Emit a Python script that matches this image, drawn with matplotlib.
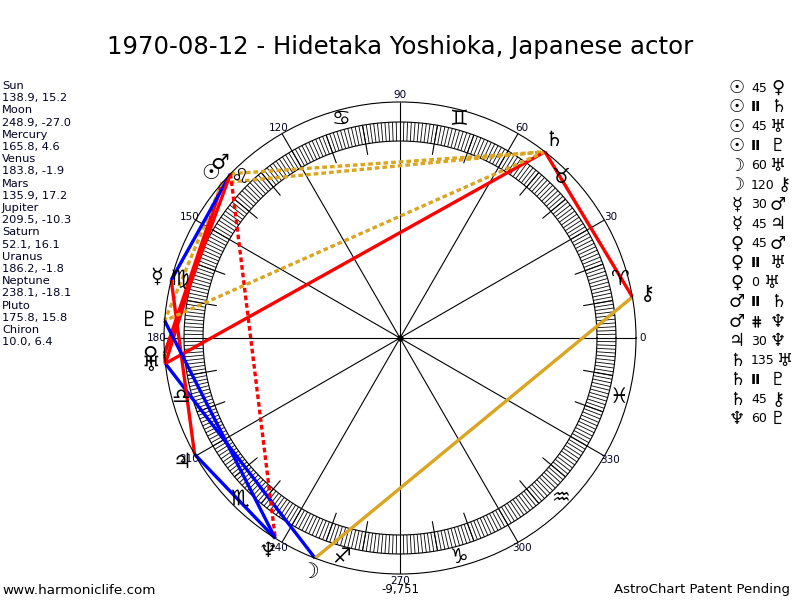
import numpy as np
import matplotlib
matplotlib.use("Agg")
import matplotlib.pyplot as plt

# ---------------- data ----------------
title = "1970-08-12 - Hidetaka Yoshioka, Japanese actor"
planet_names = ["Sun", "Moon", "Mercury", "Venus", "Mars", "Jupiter",
                "Saturn", "Uranus", "Neptune", "Pluto", "Chiron"]
planet_glyphs = ["\u2609", "\u263D", "\u263F", "\u2640", "\u2642", "\u2643",
                 "\u2644", "\u2645", "\u2646", "\u2647", "\u26B7"]
longitudes = [138.9, 248.9, 165.8, 183.8, 135.9, 209.5, 52.1, 186.2, 238.1, 175.8, 10.0]
declinations = [15.2, -27.0, 4.6, -1.9, 17.2, -10.3, 16.1, -1.8, -18.1, 15.8, 6.4]

zodiac_glyphs = ["\u2648", "\u2649", "\u264A", "\u264B", "\u264C", "\u264D",
                 "\u264E", "\u264F", "\u2650", "\u2651", "\u2652", "\u2653"]
degree_labels = [0, 30, 60, 90, 120, 150, 180, 210, 240, 270, 300, 330]

aspect_p1 = ["Sun", "Sun", "Sun", "Sun", "Moon", "Moon", "Mercury", "Mercury",
             "Venus", "Venus", "Venus", "Mars", "Mars", "Jupiter", "Saturn",
             "Saturn", "Saturn", "Neptune"]
aspect_type = ["45", "II", "45", "II", "60", "120", "30", "45",
               "45", "II", "0", "II", "CP", "30", "135", "II", "45", "60"]
aspect_p2 = ["Venus", "Saturn", "Uranus", "Pluto", "Uranus", "Chiron", "Mars", "Jupiter",
             "Mars", "Uranus", "Uranus", "Saturn", "Neptune", "Neptune", "Uranus",
             "Pluto", "Chiron", "Pluto"]

footer_left = "www.harmoniclife.com"
footer_mid = "-9,751"
footer_right = "AstroChart Patent Pending"

# ---------------- styles ----------------
RED = "#FF0000"
BLUE = "#0000FF"
GOLD = "#DAA520"
DOT = (0, (1.4, 0.9))
style_map = {
    "0": dict(color=RED, ls="-"),
    "45": dict(color=RED, ls="-"),
    "135": dict(color=RED, ls="-"),
    "30": dict(color=BLUE, ls="-"),
    "60": dict(color=BLUE, ls="-"),
    "120": dict(color=GOLD, ls="-"),
    "II": dict(color=GOLD, ls=DOT),
    "CP": dict(color=RED, ls=DOT),
}
legend_symbol = {"II": "II", "CP": "\u22D5"}

plt.rcParams['font.family'] = ['DejaVu Sans']

W, H = 800, 600
CX, CY, R = 400, 338, 236
fig = plt.figure(figsize=(8, 6), dpi=100)
fig.patch.set_facecolor("white")

ax = fig.add_axes([(CX - R) / W, (H - CY - R) / H, 2 * R / W, 2 * R / H], projection="polar")
ax.set_theta_zero_location("E")
ax.set_rlim(0, R)
ax.grid(False)
ax.set_xticks([])
ax.set_yticks([])
ax.spines["polar"].set_linewidth(0.8)
ax.spines["polar"].set_color("black")

# ring
full = np.linspace(0, 2 * np.pi, 721)
for rr in (197, 216):
    ax.plot(full, np.full_like(full, rr), color="black", lw=0.8)
deg = np.arange(360)
ax.vlines(np.radians(deg), 197, 216, color="black", lw=0.6)
ten = np.array([d for d in range(0, 360, 10) if d % 30 != 0])
ax.vlines(np.radians(ten), 186, 216, color="black", lw=0.8)
# diameters every 30 degrees
ax.vlines(np.radians(np.array(degree_labels)), 0, R, color="black", lw=0.8)
ax.plot([0], [0], "o", color="black", ms=3.5)

# degree labels
for d in degree_labels:
    ax.text(np.radians(d), 243, str(d), ha="center", va="center", fontsize=7.5,
            color="#000022", clip_on=False)

# zodiac glyphs
for i, g in enumerate(zodiac_glyphs):
    ax.text(np.radians(15 + 30 * i), 227, g, ha="center", va="center", fontsize=15,
            color="black", fontweight="bold", clip_on=False)

# aspect lines
lon_of = dict(zip(planet_names, longitudes))
for a, t, b in zip(aspect_p1, aspect_type, aspect_p2):
    st = style_map[t]
    ax.plot(np.radians([lon_of[a], lon_of[b]]), [R, R], color=st["color"],
            ls=st["ls"], lw=2.4, solid_capstyle="butt", dash_capstyle="butt",
            clip_on=False)

# planet glyphs
for name, g, lon in zip(planet_names, planet_glyphs, longitudes):
    ax.text(np.radians(lon), 251, g, ha="center", va="center", fontsize=15,
            color="black", clip_on=False)

# title
fig.text(0.5, 1 - 47 / H, title, ha="center", va="center", fontsize=17.6, color="black")

# left info column
y = 86
for name, lon, dec in zip(planet_names, longitudes, declinations):
    fig.text(2 / W, 1 - y / H, name, ha="left", va="center", fontsize=8.2, color="#000020")
    y += 12.2
    fig.text(2 / W, 1 - y / H, f"{lon:.1f}, {dec:.1f}", ha="left", va="center",
             fontsize=8.2, color="#000020")
    y += 12.2

# right aspect legend
gl_of = dict(zip(planet_names, planet_glyphs))
y = 88
for a, t, b in zip(aspect_p1, aspect_type, aspect_p2):
    fy = 1 - y / H
    fig.text(737 / W, fy, gl_of[a], ha="center", va="center", fontsize=13)
    sym = legend_symbol.get(t, t)
    if t in legend_symbol:
        fig.text(751 / W, fy, sym, ha="left", va="center", fontsize=10, fontweight="bold")
        n = 2
    else:
        fig.text(751 / W, fy, sym, ha="left", va="center", fontsize=9)
        n = len(sym)
    fig.text((752 + 6.5 * n + 13) / W, fy, gl_of[b], ha="center", va="center", fontsize=13)
    y += 19.47

# footer
fig.text(2 / W, 1 - 590 / H, footer_left, ha="left", va="center", fontsize=9.7)
fig.text(0.5, 1 - 590 / H, footer_mid, ha="center", va="center", fontsize=8.5)
fig.text(790 / W, 1 - 590 / H, footer_right, ha="right", va="center", fontsize=9.5)

fig.savefig("out.png", dpi=100, facecolor="white")
